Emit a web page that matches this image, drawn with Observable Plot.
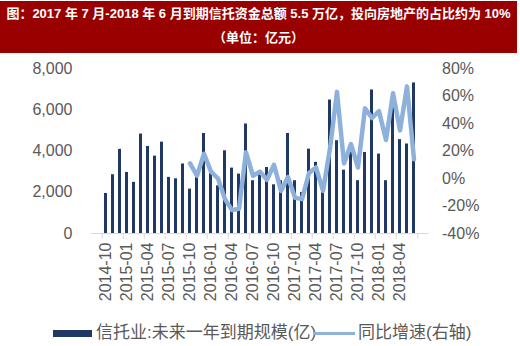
<!DOCTYPE html>
<html><head><meta charset="utf-8">
<script src="https://cdn.jsdelivr.net/npm/d3@7"></script>
<script src="https://cdn.jsdelivr.net/npm/@observablehq/plot@0.6"></script>
<style>
body{margin:0;background:#fff;width:520px;height:346px;position:relative;overflow:hidden;font-family:"Liberation Sans",Arial,"Noto Sans CJK SC",sans-serif;}
#title{position:absolute;left:0;top:1px;width:517px;height:52px;background:#990000;color:#fff;font-weight:bold;font-size:13px;text-align:center;font-family:"Liberation Sans",Arial,"Noto Sans CJK SC",sans-serif;}
#t1{position:absolute;top:4px;left:0;width:100%;line-height:18px;white-space:nowrap;}
#t2{position:absolute;top:28px;left:0;width:100%;line-height:18px;white-space:nowrap;}
#chart{position:absolute;left:0;top:55px;}
.legtext{position:absolute;top:322px;height:22px;line-height:22px;font-size:17px;color:#595959;white-space:nowrap;font-family:"Liberation Sans",Arial,"Noto Sans CJK SC",sans-serif;}
.sw1{position:absolute;left:53px;top:330px;width:39px;height:7px;background:#1f3864;}
.sw2{position:absolute;left:313px;top:332px;width:42px;height:3px;background:#8eb1dc;}
</style>
</head><body>
<div id="title"><div id="t1">图：2017 年 7 月-2018 年 6 月到期信托资金总额 5.5 万亿，投向房地产的占比约为 10%</div><div id="t2">（单位：亿元）</div></div>
<div id="chart"></div>
<div class="sw1"></div><div class="legtext" style="left:96px">信托业:未来一年到期规模(亿)</div>
<div class="sw2"></div><div class="legtext" style="left:358px">同比增速(右轴)</div>
<script>
const months = ["2014-10","2014-11","2014-12","2015-01","2015-02","2015-03","2015-04","2015-05","2015-06","2015-07","2015-08","2015-09",
"2015-10","2015-11","2015-12","2016-01","2016-02","2016-03","2016-04","2016-05","2016-06","2016-07","2016-08","2016-09",
"2016-10","2016-11","2016-12","2017-01","2017-02","2017-03","2017-04","2017-05","2017-06","2017-07","2017-08","2017-09",
"2017-10","2017-11","2017-12","2018-01","2018-02","2018-03","2018-04","2018-05","2018-06"];
const scaleValues = [1940,2850,4080,2960,2480,4820,4220,3750,4430,2720,2650,3370,
2150,2800,4850,2900,2310,4010,3170,2880,5310,2560,3000,3200,
2360,2560,4850,2560,1990,4090,3450,2000,6470,4500,3070,3930,
2560,3930,6960,3850,2560,6100,4550,4340,7300];
const yoyPct = [null,null,null,null,null,null,null,null,null,null,null,null,
11,2,18,5,0,-15,-23,-22,19,2,5,-1,
10,-9,1,-14,-15,4,8,-9,22,63,11,25,
8,51,44,49,28,62,35,67,14];
const labelMonths = ["2014-10","2015-01","2015-04","2015-07","2015-10","2016-01","2016-04","2016-07","2016-10","2017-01","2017-04","2017-07","2017-10","2018-01","2018-04"];
const leftTicks = [0,2000,4000,6000,8000];
const rightTicks = [-40,-20,0,20,40,60,80];

const rows = months.map((m,i)=>({m, v: scaleValues[i], p: yoyPct[i]}));
const toLeft = p => (p + 40) * 8000 / 120;
const fromLeft = v => Math.round(v * 120 / 8000 - 40);
const lastMonth = [months[months.length-1]];

const chart = Plot.plot({
  width: 520, height: 260,
  marginTop: 13, marginBottom: 82, marginLeft: 91, marginRight: 91.5,
  style: {fontSize: "16px", fontFamily: '"Liberation Sans", Arial, sans-serif', color: "#595959", background: "transparent"},
  x: {domain: months, paddingInner: 0.6, paddingOuter: 0.3, axis: null},
  y: {domain: [0, 8000], axis: null},
  marks: [
    Plot.ruleY([0], {stroke: "#d9d9d9", strokeWidth: 1}),
    Plot.ruleX(labelMonths, {x: d => d, y1: 0, y2: -290, stroke: "#d9d9d9", dx: -3.75}),
    Plot.ruleX(lastMonth, {x: d => d, y1: 0, y2: -290, stroke: "#d9d9d9", dx: 3.75}),
    Plot.barY(rows, {x: "m", y: "v", fill: "#1f3864"}),
    Plot.line(rows.filter(d => d.p !== null), {x: "m", y: d => toLeft(d.p), stroke: "#8eb1dc", strokeWidth: 4.5, strokeLinejoin: "round", strokeLinecap: "round"}),
    Plot.axisY(leftTicks, {anchor: "left", label: null, tickSize: 0, tickPadding: 19, tickFormat: d3.format(",")}),
    Plot.axisY(rightTicks.map(toLeft), {anchor: "right", label: null, tickSize: 0, tickPadding: 13, tickFormat: v => fromLeft(v) + "%"}),
    Plot.axisX(labelMonths, {label: null, tickRotate: -90, tickSize: 0, tickPadding: 9})
  ]
});
document.getElementById("chart").appendChild(chart);
</script>
</body></html>
